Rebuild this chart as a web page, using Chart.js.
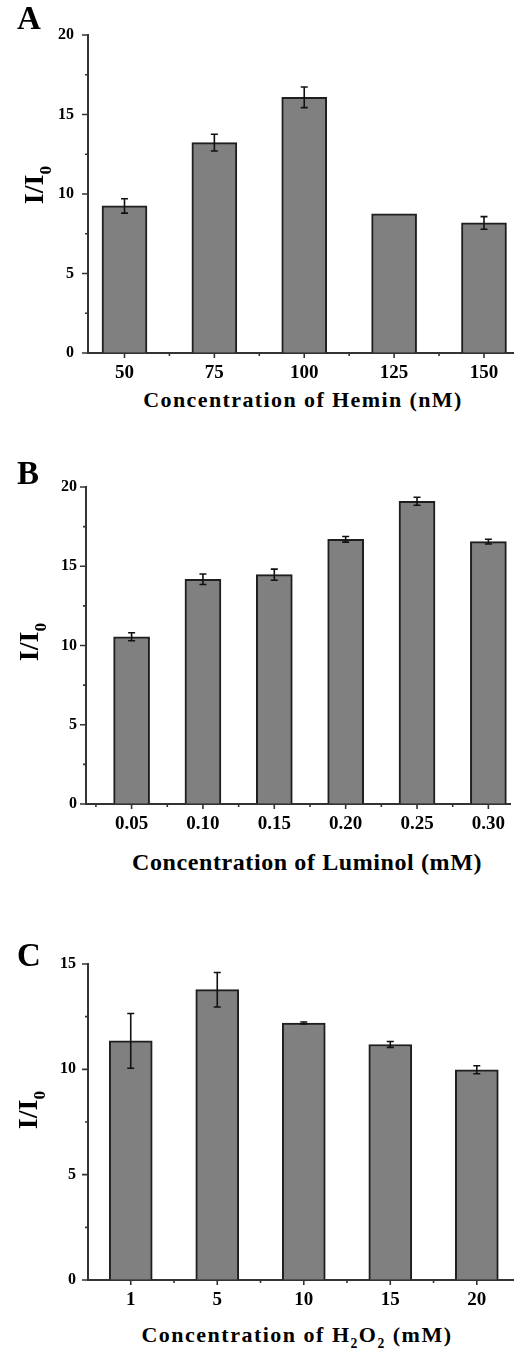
<!DOCTYPE html>
<html><head><meta charset="utf-8">
<script src="https://cdn.jsdelivr.net/npm/chart.js@4.4.0/dist/chart.umd.min.js"></script>
<style>
html,body{margin:0;padding:0;background:#fff;}
#wrap{position:relative;width:514px;height:1355px;overflow:hidden;font-family:"Liberation Serif","Times New Roman",serif;font-weight:bold;color:#000;}
canvas{position:absolute;left:0;}
.lt{position:absolute;left:17px;font-size:33px;line-height:33px;}
.xt{position:absolute;font-size:22px;line-height:22px;white-space:nowrap;transform:translateX(-50%);}
.yt{position:absolute;font-size:28px;line-height:28px;white-space:nowrap;transform:translate(-50%,-50%) rotate(-90deg);}
sub{font-size:0.62em;vertical-align:-0.45em;line-height:0;}
</style></head>
<body>
<div id="wrap">
  <canvas id="cA" width="514" height="383" style="top:0"></canvas>
  <canvas id="cB" width="514" height="394" style="top:440px"></canvas>
  <canvas id="cC" width="514" height="410" style="top:900px"></canvas>

  <div class="lt" style="top:2px">A</div>
  <div class="lt" style="top:457px">B</div>
  <div class="lt" style="top:939px">C</div>

  <div class="yt" style="left:34px;top:185px">I/I<sub>0</sub></div>
  <div class="yt" style="left:29px;top:642px">I/I<sub>0</sub></div>
  <div class="yt" style="left:28px;top:1110px">I/I<sub>0</sub></div>

  <div class="xt" style="left:303px;top:389px;letter-spacing:1.4px">Concentration of Hemin (nM)</div>
  <div class="xt" style="left:307px;top:850px;font-size:24px;line-height:24px;letter-spacing:0.6px">Concentration of Luminol (mM)</div>
  <div class="xt" style="left:297px;top:1324px;letter-spacing:1.5px">Concentration of H<sub>2</sub>O<sub>2</sub> (mM)</div>
</div>
<script>
// ====== Dados ======
const hemin      = ['50','75','100','125','150'];
const heminVal   = [9.25, 13.23, 16.08, 8.76, 8.18];
const heminErr   = [0.45, 0.53, 0.65, 0, 0.40];

const luminol    = ['0.05','0.10','0.15','0.20','0.25','0.30'];
const luminolVal = [10.55, 14.18, 14.47, 16.70, 19.10, 16.55];
const luminolErr = [0.25, 0.33, 0.35, 0.18, 0.25, 0.15];

const h2o2       = ['1','5','10','15','20'];
const h2o2Val    = [11.35, 13.78, 12.20, 11.18, 9.98];
const h2o2Err    = [1.30, 0.82, 0.05, 0.14, 0.19];

const yMaxAB = 20, yMaxC = 15, yStep = 2.5, yLabelStep = 5;

const FONT = '"Liberation Serif","Times New Roman",serif';

// ====== Barras de erro + marcas dos eixos ======
const marks = {
  id:'marks',
  afterDatasetsDraw(c){
    const ctx=c.ctx, x=c.scales.x, y=c.scales.y, a=c.chartArea, ds=c.data.datasets[0];
    const seg=(x1,y1,x2,y2)=>{ ctx.moveTo(x1,y1); ctx.lineTo(x2,y2); };
    ctx.save();
    ctx.strokeStyle='#111'; ctx.lineWidth=1.6; ctx.beginPath();
    c.getDatasetMeta(0).data.forEach((b,i)=>{
      const e=ds.err[i]; if(!e) return;
      const v=ds.data[i].y, t=y.getPixelForValue(v+e), d=y.getPixelForValue(v-e);
      seg(b.x,t,b.x,d); seg(b.x-3.5,t,b.x+3.5,t); seg(b.x-3.5,d,b.x+3.5,d);
    });
    ctx.stroke();
    ctx.strokeStyle='#333'; ctx.lineWidth=1.6; ctx.beginPath();
    x.ticks.forEach(t=>{ const p=x.getPixelForValue(t.value); const L=Number.isInteger(t.value)?5:3; seg(p,a.bottom,p,a.bottom+L); });
    y.ticks.forEach(t=>{ const p=y.getPixelForValue(t.value); const L=t.value%yLabelStep===0?6:3; seg(a.left-L,p,a.left,p); });
    ctx.stroke();
    ctx.restore();
  }
};

function plot(id, cats, vals, errs, o){
  return new Chart(document.getElementById(id), {
    type:'bar',
    data:{ datasets:[{ data: vals.map((v,i)=>({x:i,y:v})), err: errs,
      backgroundColor:'#808080', borderColor:'#1e1e1e', borderWidth:2, barThickness:o.barW }] },
    options:{
      responsive:false, animation:false,
      layout:{ padding:{ top:o.top, left:0, right:0, bottom:0 } },
      plugins:{ legend:{display:false}, tooltip:{enabled:false} },
      scales:{
        x:{ type:'linear', min:o.xmin, max:o.xmax, offset:false,
          grid:{ display:true, drawOnChartArea:false, drawTicks:false, offset:false },
          border:{ color:'#333', width:2 },
          afterBuildTicks:s=>{ const t=[]; for(let k=-1;k<=cats.length;k+=0.5){ if(k>=o.xmin && k<=o.xmax) t.push({value:k}); } s.ticks=t; },
          afterFit:s=>{ s.height=30; },
          ticks:{ autoSkip:false, maxRotation:0, padding:9, color:'#000', font:{family:FONT, size:19, weight:'bold'},
            callback:v=> Number.isInteger(v) ? cats[v] : '' } },
        y:{ min:0, max:o.ymax,
          grid:{ display:true, drawOnChartArea:false, drawTicks:false },
          border:{ color:'#333', width:2 },
          afterFit:s=>{ s.width=o.yW; },
          ticks:{ stepSize:yStep, padding:o.yPad, color:'#000', font:{family:FONT, size:16, weight:'bold'},
            callback:v=> v%yLabelStep===0 ? v : '' } }
      }
    },
    plugins:[marks]
  });
}

plot('cA', hemin,   heminVal,   heminErr,   {ymax:yMaxAB, xmin:-0.406, xmax:4.334, barW:45, top:35, yW:88, yPad:14});
plot('cB', luminol, luminolVal, luminolErr, {ymax:yMaxAB, xmin:-0.639, xmax:5.306, barW:36, top:47, yW:86, yPad:9});
plot('cC', h2o2,    h2o2Val,    h2o2Err,    {ymax:yMaxC,  xmin:-0.494, xmax:4.43,  barW:43, top:64, yW:88, yPad:12});
</script>
</body></html>
